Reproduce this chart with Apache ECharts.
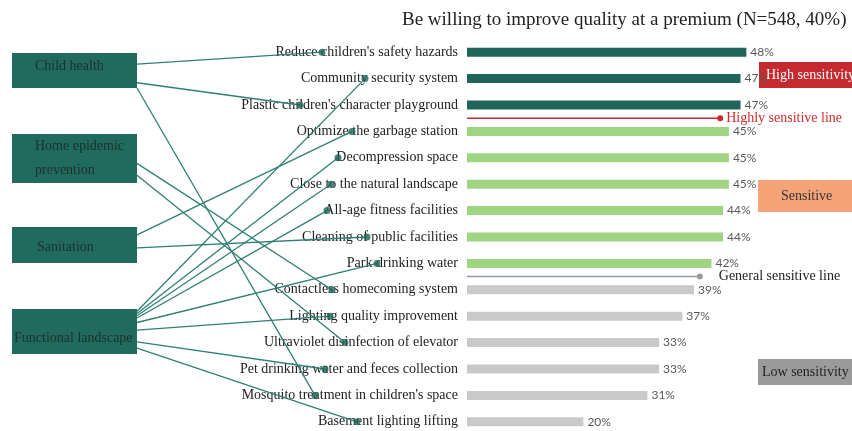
<!DOCTYPE html>
<html><head><meta charset="utf-8">
<script src="https://cdn.jsdelivr.net/npm/echarts@6/dist/echarts.min.js"></script>
<style>html,body{margin:0;padding:0;background:#fff;overflow:hidden}#c{width:852px;height:440px}</style>
</head><body><div id="c"></div>
<script>
// ---------- data ----------
const title = 'Be willing to improve quality at a premium (N=548, 40%)';
const categories = [
  "Reduce children's safety hazards",
  "Community security system",
  "Plastic children's character playground",
  "Optimize the garbage station",
  "Decompression space",
  "Close to the natural landscape",
  "All-age fitness facilities",
  "Cleaning of public facilities",
  "Park drinking water",
  "Contactless homecoming system",
  "Lighting quality improvement",
  "Ultraviolet disinfection of elevator",
  "Pet drinking water and feces collection",
  "Mosquito treatment in children's space",
  "Basement lighting lifting"
];
const values = [48, 47, 47, 45, 45, 45, 44, 44, 42, 39, 37, 33, 33, 31, 20];
const tiers = ['high','high','high','sens','sens','sens','sens','sens','sens','low','low','low','low','low','low'];
const groups = ['Child health', 'Home epidemic prevention', 'Sanitation', 'Functional landscape'];
const groupOfCategory = [0, 3, 0, 2, 3, 3, 3, 2, 3, 1, 3, 1, 3, 0, 3];
const highlySensitiveValue = 43.5;
const generalSensitiveValue = 40;
const highlyLineRow = 2.5;
const generalLineRow = 8.5;
const tierLabels = ['High sensitivity', 'Sensitive', 'Low sensitivity'];

// ---------- style / layout ----------
const SERIF = '"Liberation Serif","Times New Roman",serif';
const GRID_TOP = 39, GRID_H = 396, ROWS = categories.length, ROW_H = GRID_H / ROWS;
const TEAL = '#216b5e', LINK = '#2f7f72';
const tierColor = {high: '#1f6559', sens: '#9fd482', low: '#c9c9c9'};
const boxStyle = [
  {x: 12, y: 53, w: 125, h: 35, text: [['Child health', 35, 66]]},
  {x: 12, y: 134, w: 125, h: 49, text: [['Home epidemic', 35, 146], ['prevention', 35, 170]]},
  {x: 12, y: 227, w: 125, h: 36, text: [['Sanitation', 37, 247]]},
  {x: 12, y: 309, w: 125, h: 45, text: [['Functional landscape', 14, 338]]}
];
const dotX = [322, 365, 300, 352, 338, 331, 327, 367, 377, 332, 330, 345, 325, 315, 357];
const anchorFrac = [0.32, 0.05, 0.85, 0.22, 0.1, 0.15, 0.2, 0.58, 0.3, 0.6, 0.47, 0.84, 0.73, 1.0, 0.87];
const rightBoxes = [
  {x: 759, y: 62, w: 93, h: 26, fill: '#c42a2e', color: '#fff', tx: 766},
  {x: 758, y: 180, w: 94, h: 32, fill: '#f6a37a', color: '#333', tx: 781},
  {x: 758, y: 359, w: 94, h: 26, fill: '#9b9b9b', color: '#222', tx: 762}
];
const pxToRow = py => (py - GRID_TOP) / ROW_H - 0.5;

const chart = echarts.init(document.getElementById('c'));

const linkData = categories.map((c, i) => {
  const b = boxStyle[groupOfCategory[i]];
  return {coords: [[b.x + b.w, pxToRow(b.y + b.h * anchorFrac[i])], [dotX[i], i]]};
});

const graphics = [];
boxStyle.forEach(b => {
  graphics.push({type: 'rect', shape: {x: b.x, y: b.y, width: b.w, height: b.h}, style: {fill: TEAL}, z: 1});
  b.text.forEach(t => graphics.push({type: 'text', z: 2, style: {text: t[0], x: t[1], y: t[2], fill: '#1d302c', font: '14px ' + SERIF, textVerticalAlign: 'middle'}}));
});
rightBoxes.forEach((b, k) => {
  graphics.push({type: 'rect', shape: {x: b.x, y: b.y, width: b.w, height: b.h}, style: {fill: b.fill}, z: 1});
  graphics.push({type: 'text', z: 2, style: {text: tierLabels[k], x: b.tx, y: b.y + b.h / 2, fill: b.color, font: '14px ' + SERIF, textVerticalAlign: 'middle'}});
});

chart.setOption({
  animation: false,
  title: {text: title, left: 397, top: 6, textStyle: {fontFamily: SERIF, fontSize: 19, fontWeight: 'normal', color: '#222'}},
  grid: [
    {left: 467, top: GRID_TOP, width: 291, height: GRID_H},
    {left: 0, top: GRID_TOP, width: 852, height: GRID_H}
  ],
  xAxis: [
    {type: 'value', gridIndex: 0, min: 0, max: 50, show: false},
    {type: 'value', gridIndex: 1, min: 0, max: 852, show: false}
  ],
  yAxis: [
    {type: 'category', gridIndex: 0, data: categories, inverse: true,
     axisLine: {show: false}, axisTick: {show: false}, splitLine: {show: false},
     axisLabel: {margin: 9, fontFamily: SERIF, fontSize: 14, color: '#222'}},
    {type: 'value', gridIndex: 0, min: -0.5, max: ROWS - 0.5, inverse: true, show: false},
    {type: 'value', gridIndex: 1, min: -0.5, max: ROWS - 0.5, inverse: true, show: false}
  ],
  graphic: graphics,
  series: [
    {type: 'bar', xAxisIndex: 0, yAxisIndex: 0, barWidth: 9,
     data: values.map((v, i) => ({value: v, itemStyle: {color: tierColor[tiers[i]]}})),
     label: {show: true, position: 'right', distance: 4, formatter: '{c}%', fontFamily: 'Lato, sans-serif', fontSize: 12, color: '#595959'}},
    {type: 'line', xAxisIndex: 0, yAxisIndex: 1, lineStyle: {color: '#c8282e', width: 1.5}, itemStyle: {color: '#c8282e'},
     data: [{value: [0, highlyLineRow], symbol: 'none'},
            {value: [highlySensitiveValue, highlyLineRow], symbol: 'circle', symbolSize: 6,
             label: {show: true, position: 'right', distance: 3, formatter: 'Highly sensitive line', fontFamily: SERIF, fontSize: 14, color: '#d42a2a'}}]},
    {type: 'line', xAxisIndex: 0, yAxisIndex: 1, lineStyle: {color: '#8e99b1', width: 1.5}, itemStyle: {color: '#9a9a9a'},
     data: [{value: [0, generalLineRow], symbol: 'none'},
            {value: [generalSensitiveValue, generalLineRow], symbol: 'circle', symbolSize: 6,
             label: {show: true, position: 'right', distance: 16, formatter: 'General sensitive line', fontFamily: SERIF, fontSize: 14, color: '#222'}}]},
    {type: 'lines', coordinateSystem: 'cartesian2d', xAxisIndex: 1, yAxisIndex: 2, z: 3,
     lineStyle: {color: LINK, width: 1.3, opacity: 1}, data: linkData},
    {type: 'scatter', xAxisIndex: 1, yAxisIndex: 2, z: 4, symbolSize: 7, itemStyle: {color: '#1f6559'},
     data: categories.map((c, i) => [dotX[i], i])}
  ]
});
</script></body></html>
